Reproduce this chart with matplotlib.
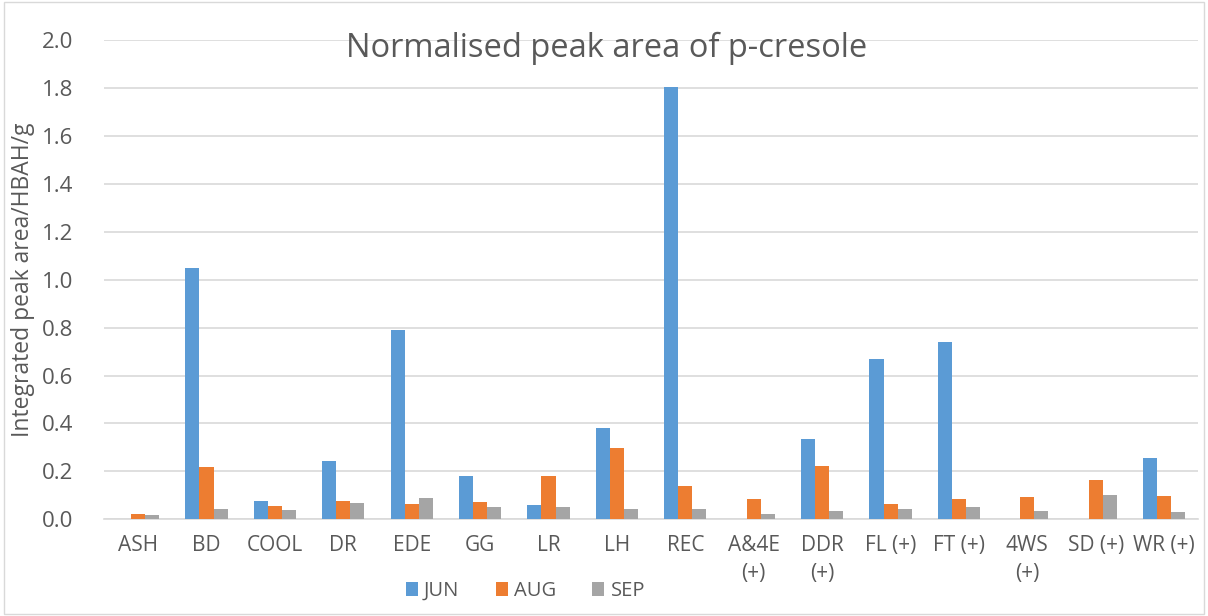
import numpy as np
import matplotlib.pyplot as plt

plt.rcParams['font.family'] = ['Open Sans', 'DejaVu Sans']

categories = ['ASH', 'BD', 'COOL', 'DR', 'EDE', 'GG', 'LR', 'LH', 'REC',
              'A&4E\n(+)', 'DDR\n(+)', 'FL (+)', 'FT (+)', '4WS\n(+)', 'SD (+)', 'WR (+)']
jun = [0.0, 1.048, 0.075, 0.242, 0.789, 0.180, 0.058, 0.380, 1.804,
       0.0, 0.334, 0.668, 0.739, 0.0, 0.0, 0.257]
aug = [0.021, 0.217, 0.054, 0.075, 0.063, 0.071, 0.180, 0.296, 0.138,
       0.083, 0.221, 0.063, 0.083, 0.092, 0.163, 0.096]
sep = [0.017, 0.042, 0.040, 0.067, 0.088, 0.050, 0.050, 0.042, 0.042,
       0.020, 0.033, 0.042, 0.050, 0.033, 0.100, 0.029]

text_col = '#595959'
fig = plt.figure(figsize=(12.08, 6.16), dpi=100)
ax = fig.add_axes([0.086, 0.157, 0.906, 0.778])

x = np.arange(len(categories))
w = 0.205
ax.bar(x - w, jun, w, color='#5b9bd5', label='JUN', zorder=3)
ax.bar(x, aug, w, color='#ed7d31', label='AUG', zorder=3)
ax.bar(x + w, sep, w, color='#a5a5a5', label='SEP', zorder=3)

ax.set_xlim(-0.5, len(categories) - 0.5)
ax.set_ylim(0, 2.0)
yt = np.arange(0, 2.01, 0.2)
ax.set_yticks(yt)
ax.set_yticklabels(['%.1f' % v for v in yt])
ax.set_xticks(x)
ax.set_xticklabels(categories, va='top', linespacing=1.45)
ax.grid(axis='y', color='#d9d9d9', lw=1.2, zorder=0)
for s in ['top', 'right', 'left']:
    ax.spines[s].set_visible(False)
ax.spines['bottom'].set_color('#d9d9d9')
ax.spines['bottom'].set_linewidth(1.2)
ax.tick_params(axis='y', length=0, labelsize=16, colors=text_col, pad=22)
ax.tick_params(axis='x', length=0, labelsize=15, colors=text_col, pad=11)

ax.set_ylabel('Integrated peak area/HBAH/g', fontsize=16.5, color=text_col, labelpad=5)
fig.text(0.502, 0.922, 'Normalised peak area of p-cresole', fontsize=23.5,
         color=text_col, ha='center', va='center')

fig.legend(loc='lower center', ncol=3, bbox_to_anchor=(0.435, -0.005), frameon=False,
           fontsize=14.5, labelcolor=text_col, handlelength=0.6, handleheight=0.7,
           handletextpad=0.3, columnspacing=1.8)

fig.patches.append(plt.Rectangle((0.003, 0.003), 0.994, 0.994, transform=fig.transFigure,
                                 fill=False, edgecolor='#d9d9d9', lw=1))

fig.savefig('out.png', dpi=100)
